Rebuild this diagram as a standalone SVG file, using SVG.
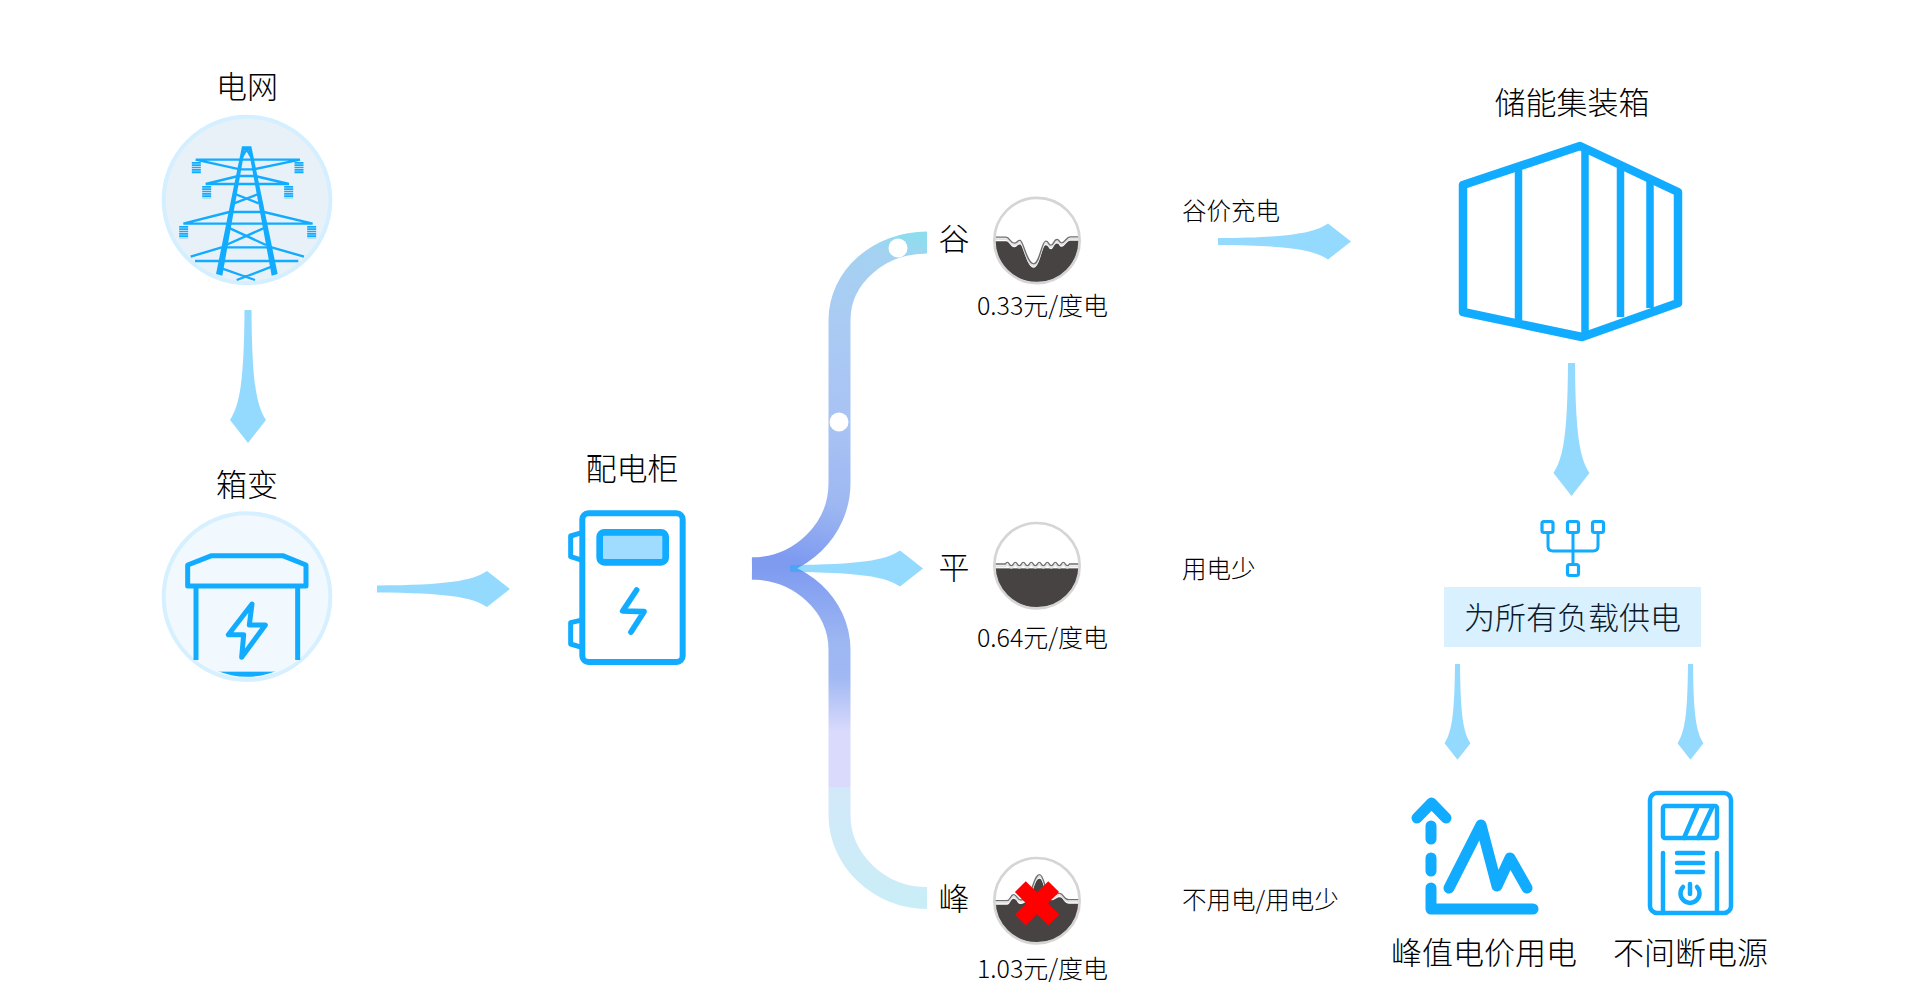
<svg xmlns="http://www.w3.org/2000/svg" width="1920" height="1002" viewBox="0 0 1920 1002">
<style>
text{font-family:"Noto Sans CJK SC","Liberation Sans",sans-serif;fill:#000;font-weight:300}
.t30{font-size:31px;text-anchor:middle}
.t29{font-size:31px;text-anchor:middle}
.t24{font-size:24.5px}
.p{font-size:25px;text-anchor:middle}
.ic{fill:none;stroke:#11acff;stroke-linecap:round;stroke-linejoin:round}
.arrow{fill:#11acff;fill-opacity:.45}
.ring{fill:none;stroke:#d5d5d5;stroke-width:8}
.dark{fill:#474342}
.wl{fill:none;stroke:#e2e2e2;stroke-width:5;stroke-linejoin:round}
.wd{fill:none;stroke:#6f6f6f;stroke-width:4;stroke-linejoin:round}
.tw{stroke:#11acff;stroke-width:7;fill:none}
.ins{stroke:#11acff;stroke-width:27;stroke-dasharray:5 2;fill:none}
</style>
<defs>
<path id="arr" d="M-3.5,0 L3.5,0 C4,70 8,95 18,110 L0,133 L-18,110 C-8,95 -4,70 -3.5,0 Z"/>
<linearGradient id="gu" gradientUnits="userSpaceOnUse" x1="925" y1="240" x2="835" y2="570">
<stop offset="0" stop-color="#8edcee"/><stop offset=".07" stop-color="#a4d2f1"/><stop offset=".29" stop-color="#aacbf3"/><stop offset=".6" stop-color="#a8c2f4"/><stop offset=".82" stop-color="#9db7f2"/><stop offset="1" stop-color="#7f9bf0"/>
</linearGradient>
<linearGradient id="gl" gradientUnits="userSpaceOnUse" x1="0" y1="568" x2="0" y2="909">
<stop offset="0" stop-color="#7f9bf0"/><stop offset=".22" stop-color="#9db7f2"/><stop offset=".32" stop-color="#a0b8f3"/><stop offset=".48" stop-color="#dadafc"/><stop offset=".643" stop-color="#dadafc"/><stop offset=".643" stop-color="#d2e8f9"/><stop offset="1" stop-color="#c9eef7"/>
</linearGradient>
<clipPath id="cg"><circle r="126"/></clipPath>
<clipPath id="ct"><circle cx="321" cy="450" r="248"/></clipPath>
<clipPath id="cb"><circle cx="321" cy="440" r="240"/></clipPath>
<path id="wv" d="M-130,-4 L-93,-4 C-82,-4 -80,14 -68,14 C-60,14 -58,4 -50,6 C-40,10 -30,76 -10,76 C8,76 14,8 26,8 C36,8 34,20 42,20 C50,20 50,3 60,3 C68,3 66,13 74,13 C84,13 88,-5 100,-5 L130,-5"/>
<path id="wf" d="M-130,2 H-95 q6,-10 12,0 t12,0 t12,0 t12,0 t12,0 t12,0 t12,0 t12,0 t12,0 t12,0 t12,0 t12,0 t12,0 t12,0 t12,0 t12,0 H130"/>
<path id="wp" d="M-130,6 L-90,6 C-80,6 -80,-12 -70,-12 C-60,-12 -60,4 -48,4 C-35,4 -25,-10 -18,-25 C-8,-50 -4,-72 8,-72 C20,-72 25,-20 38,-10 C50,-2 55,-16 68,-16 C80,-16 80,3 95,3 L130,3"/>
</defs>

<g id="connectors">
<path d="M752,568.5 C800,568 839.5,530 839.5,483 L839.5,320 C839.5,277 879,242.5 927,242.5" fill="none" stroke="url(#gu)" stroke-width="22"/>
<path d="M752,568.5 C800,569 839.5,605 839.5,650 L839.5,815 C839.5,860 879,898 927,898" fill="none" stroke="url(#gl)" stroke-width="22"/>
<circle cx="898" cy="248" r="9.5" fill="#fff"/>
<circle cx="839" cy="422" r="9.5" fill="#fff"/>
<use href="#arr" class="arrow" transform="translate(248 310)"/>
<use href="#arr" class="arrow" transform="translate(377 589) rotate(-90)"/>
<use href="#arr" class="arrow" transform="translate(790 568.5) rotate(-90)"/>
<use href="#arr" class="arrow" transform="translate(1218 241.5) rotate(-90)"/>
<use href="#arr" class="arrow" transform="translate(1571.5 363)"/>
<use href="#arr" class="arrow" transform="translate(1457.5 664) scale(.72)"/>
<use href="#arr" class="arrow" transform="translate(1690.5 664) scale(.72)"/>
</g>

<g id="grid">
<text class="t29" x="247" y="98">电网</text>
<g transform="translate(140 50) scale(.33333)">
<circle cx="321" cy="450" r="250" fill="#e8f1f8" stroke="#d4efff" stroke-width="12"/>
<g clip-path="url(#ct)">
<path d="M306,289 L334,289 L413,672 L395,677 L326,300 L314,300 L247,677 L228,672 Z" fill="#11acff"/>
<path class="tw" d="M307,320 L320,298 L333,320 M167,329 H480 M167,329 L300,358 M480,329 L340,358 M298,358 H342 M197,402 H447 M197,402 L295,378 M447,402 L345,378 M293,378 H347 M285,402 H355 M285,432 L356,460 M355,432 L282,460 M268,486 H372 M130,521 H518 M130,521 L268,486 M518,521 L372,486 M262,521 H378 M270,535 L378,585 M370,535 L258,585 M245,592 H395 M152,620 L245,592 M492,620 L395,592 M165,633 H475 M245,655 L345,690 M395,650 L290,690"/>
<path class="ins" d="M169,336 V372 M477,336 V372 M200,408 V445 M446,408 V445 M131,528 V565 M515,528 V565"/>
</g>
</g>
</g>

<g id="box-transformer">
<text class="t29" x="247" y="496">箱变</text>
<g transform="translate(140 450) scale(.33333)">
<circle cx="321" cy="440" r="250" fill="#f1f9ff" stroke="#d6f0ff" stroke-width="12"/>
<g clip-path="url(#cb)">
<rect x="160" y="665" width="320" height="40" fill="#11acff"/>
</g>
<path class="ic" stroke-width="15" d="M143,345 L215,317 L428,317 L498,345 L498,408 L143,408 Z"/>
<path d="M168,408 V630 M473,408 V630" fill="none" stroke="#11acff" stroke-width="15"/>
<path class="ic" stroke-width="15" d="M336,462 L265,554 L311,554 L305,622 L376,525 L328,525 Z"/>
</g>
</g>

<g id="cabinet">
<text class="t30" x="632" y="480">配电柜</text>
<g transform="translate(550 440) scale(.33333)">
<rect x="97" y="220" width="301" height="446" rx="18" fill="#fff" stroke="#11acff" stroke-width="18"/>
<path class="ic" stroke-width="15" stroke-linecap="butt" d="M88,280 L62,288 V350 L88,358 M88,542 L62,548 V612 L88,620"/>
<rect x="149" y="277" width="198" height="90" rx="14" fill="#9fdcff" stroke="#11acff" stroke-width="20"/>
<path class="ic" stroke-width="17" d="M260,450 L218,513 L282,515 L243,576"/>
</g>
</g>

<g id="gauge-valley">
<text class="t29" x="954" y="250">谷</text>
<g transform="translate(1037 240.5) scale(.33333)">
<circle r="126" fill="#fff"/>
<g clip-path="url(#cg)">
<path class="dark" d="M-130,2 L-93,2 C-82,2 -80,20 -68,20 C-60,20 -58,10 -50,12 C-40,16 -30,82 -10,82 C8,82 14,14 26,14 C36,14 34,26 42,26 C50,26 50,9 60,9 C68,9 66,19 74,19 C84,19 88,1 100,1 L130,1 V130 H-130 Z"/>
<use href="#wv" class="wl"/>
<use href="#wv" class="wd" y="-6"/>
</g>
<circle class="ring" r="128"/>
</g>
<text class="p" x="1042.5" y="315">0.33元/度电</text>
<text class="t24" x="1182" y="220">谷价充电</text>
</g>

<g id="gauge-flat">
<text class="t29" x="954" y="579">平</text>
<g transform="translate(1037 565.7) scale(.33333)">
<circle r="126" fill="#fff"/>
<g clip-path="url(#cg)">
<rect class="dark" x="-130" y="8" width="260" height="122"/>
<use href="#wf" class="wl"/>
<use href="#wf" class="wd" y="-7"/>
</g>
<circle class="ring" r="128"/>
</g>
<text class="p" x="1042.5" y="647">0.64元/度电</text>
<text class="t24" x="1182" y="578">用电少</text>
</g>

<g id="gauge-peak">
<text class="t29" x="954" y="910">峰</text>
<g transform="translate(1037 900.7) scale(.33333)">
<circle r="126" fill="#fff"/>
<g clip-path="url(#cg)">
<path class="dark" d="M-130,12 L-90,12 C-80,12 -80,-6 -70,-6 C-60,-6 -60,10 -48,10 C-35,10 -25,-4 -18,-19 C-8,-44 -4,-66 8,-66 C20,-66 25,-14 38,-4 C50,4 55,-10 68,-10 C80,-10 80,9 95,9 L130,9 V130 H-130 Z"/>
<use href="#wp" class="wl"/>
<use href="#wp" class="wd" y="-6"/>
</g>
<circle class="ring" r="128"/>
<path d="M-50,-42 L50,58 M50,-42 L-50,58" stroke="#f00" stroke-width="46" fill="none"/>
</g>
<text class="p" x="1042.5" y="978">1.03元/度电</text>
<text class="t24" x="1182" y="909">不用电/用电少</text>
</g>

<g id="container">
<text class="t30" x="1572" y="114">储能集装箱</text>
<path class="ic" stroke-width="8.5" d="M1463,185 L1580,146 L1678,192 L1678,303 L1582,337 L1463,312 Z"/>
<path d="M1518.5,170 V320 M1585,146 V335 M1620.5,168 V317 M1650,180 V308" fill="none" stroke="#11acff" stroke-width="7.5"/>
</g>

<g id="all-loads">
<path class="ic" stroke-width="3" d="M1548,533 V546 Q1548,551 1553,551 H1593 Q1598,551 1598,546 V533 M1573,533 V564"/>
<rect class="ic" stroke-width="3.2" x="1542" y="521.5" width="11" height="11" rx="2"/>
<rect class="ic" stroke-width="3.2" x="1567.5" y="521.5" width="11" height="11" rx="2"/>
<rect class="ic" stroke-width="3.2" x="1592.5" y="521.5" width="11" height="11" rx="2"/>
<rect class="ic" stroke-width="3.2" x="1567.5" y="564.5" width="11" height="11" rx="2"/>
<rect x="1444" y="587" width="257" height="60" fill="#d9f0ff"/>
<text class="t30" x="1572.5" y="629" style="fill:#0a1a2a">为所有负载供电</text>
</g>

<g id="peak-usage">
<path class="ic" stroke-width="11" d="M1417,818 L1431.5,803 L1446,818"/>
<path class="ic" stroke-width="11" d="M1431,826 V839 M1431,858 V871 M1431,888 V909 H1533"/>
<path class="ic" stroke-width="11" d="M1449,888 L1481,825 L1497,886 L1510,858 L1527,888"/>
<text class="t30" x="1484" y="964">峰值电价用电</text>
</g>

<g id="ups">
<rect class="ic" stroke-width="4.5" x="1650" y="793" width="81" height="120" rx="7"/>
<rect class="ic" stroke-width="4.5" x="1663" y="806" width="54" height="32" rx="2"/>
<path class="ic" stroke-width="4.5" d="M1684,838 L1697,808 M1698,838 L1712,808 M1663,853 V913 M1717,853 V913 M1677,853 H1703 M1677,863 H1703 M1677,872 H1703 M1690,884 V894"/>
<path class="ic" stroke-width="4.5" d="M1683,887 A9.5,9.5 0 1 0 1697,887"/>
<text class="t30" x="1690.5" y="964">不间断电源</text>
</g>
</svg>
